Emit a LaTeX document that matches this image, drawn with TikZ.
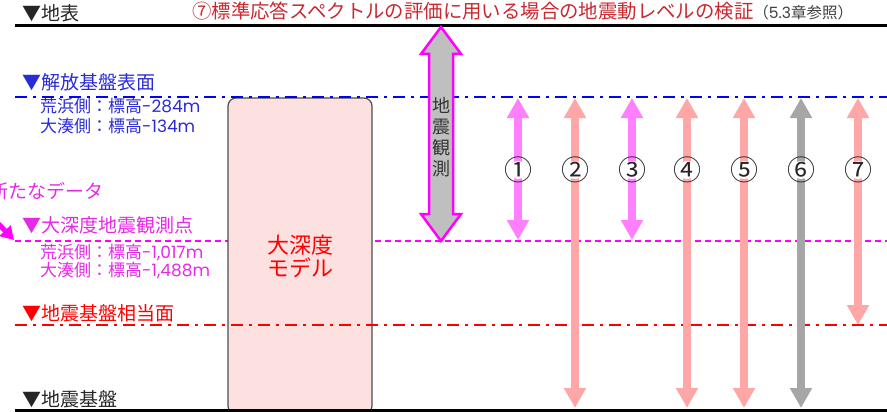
\documentclass[tikz,border=0pt]{standalone}
\usepackage{fontspec}
\setmainfont{Noto Sans CJK JP}
\newfontfamily\latinfont{Poppins}
\usetikzlibrary{arrows.meta}
\definecolor{lblue}{HTML}{0000FF}
\definecolor{tblue}{HTML}{2B2BD6}
\definecolor{lmag}{HTML}{FF00FF}
\definecolor{tmag}{HTML}{E629E6}
\definecolor{lred}{HTML}{FF0000}
\definecolor{tred}{HTML}{C8282E}
\definecolor{amag}{HTML}{FF80FF}
\definecolor{asal}{HTML}{FFA6A6}
\definecolor{agray}{HTML}{A6A6A6}
\definecolor{bgray}{HTML}{BFBFBF}
\definecolor{rfill}{HTML}{FDE1E1}
\newcommand{\lt}[1]{{\latinfont #1}}
\begin{document}
\begin{tikzpicture}[x=1pt,y=-1pt,
  head/.style={font=\fontsize{19}{22}\selectfont, anchor=base west, inner sep=0pt},
  subtxt/.style={font=\fontsize{17}{19}\selectfont, anchor=base west, inner sep=0pt},
  dashdot/.style={line width=2.8pt, dash pattern=on 12pt off 6pt on 3pt off 6pt},
  fatboth/.style={line width=8pt, {Triangle[width=21pt,length=20pt]}-{Triangle[width=21pt,length=20pt]}},
  numlab/.style={font=\fontsize{28}{30}\selectfont, inner sep=0pt, text=black!85}
]
\useasboundingbox (0,0) rectangle (887,412);

% coordinates for levels
\coordinate (surfL) at (15,26);   \coordinate (surfR) at (887,26);
\coordinate (freeL) at (15,97);   \coordinate (freeR) at (887,97);
\coordinate (obsL)  at (15,241);  \coordinate (obsR)  at (887,241);
\coordinate (eqL)   at (15,325);  \coordinate (eqR)   at (887,325);
\coordinate (baseL) at (15,410);  \coordinate (baseR) at (887,410);

% observation level line (behind model box)
\draw[lmag, line width=2pt, dash pattern=on 6pt off 4pt] (obsL) -- (obsR);

% model box
\node[draw=black!70, line width=1.2pt, fill=rfill, rounded corners=8pt,
      minimum width=144pt, minimum height=316pt, inner sep=0pt]
      (model) at (300,256) {};
\node[text=lred, font=\fontsize{22}{25}\selectfont, align=center, inner sep=0pt]
      (modeltxt) at (300,256) {大深度\\[-2pt]モデル};

% other level lines
\draw[line width=3pt, black] (surfL) -- (surfR);
\draw[lblue, dashdot] (freeL) -- (freeR);
\draw[lred, dashdot] (eqL) -- (eqR);
\draw[line width=3pt, black] (baseL) -- (baseR);

% title
\node[anchor=base west, inner sep=0pt, font=\fontsize{19.4}{22}\selectfont, text=tred]
  (title) at (192,19) {⑦標準応答スペクトルの評価に用いる場合の地震動レベルの検証\textcolor{black!75}{\fontsize{15.5}{19}\selectfont（\lt{5.3}章参照）}};

% level labels
\node[head, text=black!85] (lsurf) at (22,21) {▼地表};
\node[head, text=tblue] (lfree) at (22,90) {▼解放基盤表面};
\node[subtxt, text=tblue] (lfree1) at (40,113) {荒浜側：標高\lt{-284m}};
\node[subtxt, text=tblue] (lfree2) at (40,132) {大湊側：標高\lt{-134m}};
\node[head, text=tmag] (lobs) at (22,232) {▼大深度地震観測点};
\node[subtxt, text=tmag] (lobs1) at (40,258) {荒浜側：標高\lt{-1,017m}};
\node[subtxt, text=tmag] (lobs2) at (40,276) {大湊側：標高\lt{-1,488m}};
\node[head, text=lred] (leq) at (22,320) {▼地震基盤相当面};
\node[head, text=black!85] (lbase) at (22,406) {▼地震基盤};

% new data
\node[head, anchor=base east, text=tmag] (newdata) at (104,198) {新たなデータ};
\coordinate (ndS) at (-10,215);
\coordinate (ndE) at (14,240);
\draw[lmag, line width=5pt, -{Triangle[width=15pt,length=13pt]}] (ndS) -- (ndE);

% seismic observation block arrow
\draw[lmag, line width=2.5pt, fill=bgray, line join=miter]
  (441,27) -- (461,54) -- (453,54) -- (453,214) -- (461,214) -- (441,241)
  -- (421,214) -- (429,214) -- (429,54) -- (421,54) -- cycle;
\node[text=black!80, font=\fontsize{18}{22}\selectfont, align=center, inner sep=0pt]
  (obstxt) at (441,137) {地\\[-1pt]震\\[-1pt]観\\[-1pt]測};

% numbered arrows
\foreach \n/\x/\yb/\col in {1/518/240/amag, 2/575/408/asal,
   3/632/240/amag, 4/687/408/asal, 5/744/408/asal,
   6/801/408/agray, 7/858/325/asal}{
  \coordinate (t\n) at (\x,98);
  \coordinate (b\n) at (\x,\yb);
  \draw[\col, fatboth] (t\n) -- (b\n);
  \fill[white] (\x,170) circle (9pt);
}
\node[numlab] (n1) at (518,170) {①};
\node[numlab] (n2) at (575,170) {②};
\node[numlab] (n3) at (632,170) {③};
\node[numlab] (n4) at (687,170) {④};
\node[numlab] (n5) at (744,170) {⑤};
\node[numlab] (n6) at (801,170) {⑥};
\node[numlab] (n7) at (858,170) {⑦};
\end{tikzpicture}
\end{document}
